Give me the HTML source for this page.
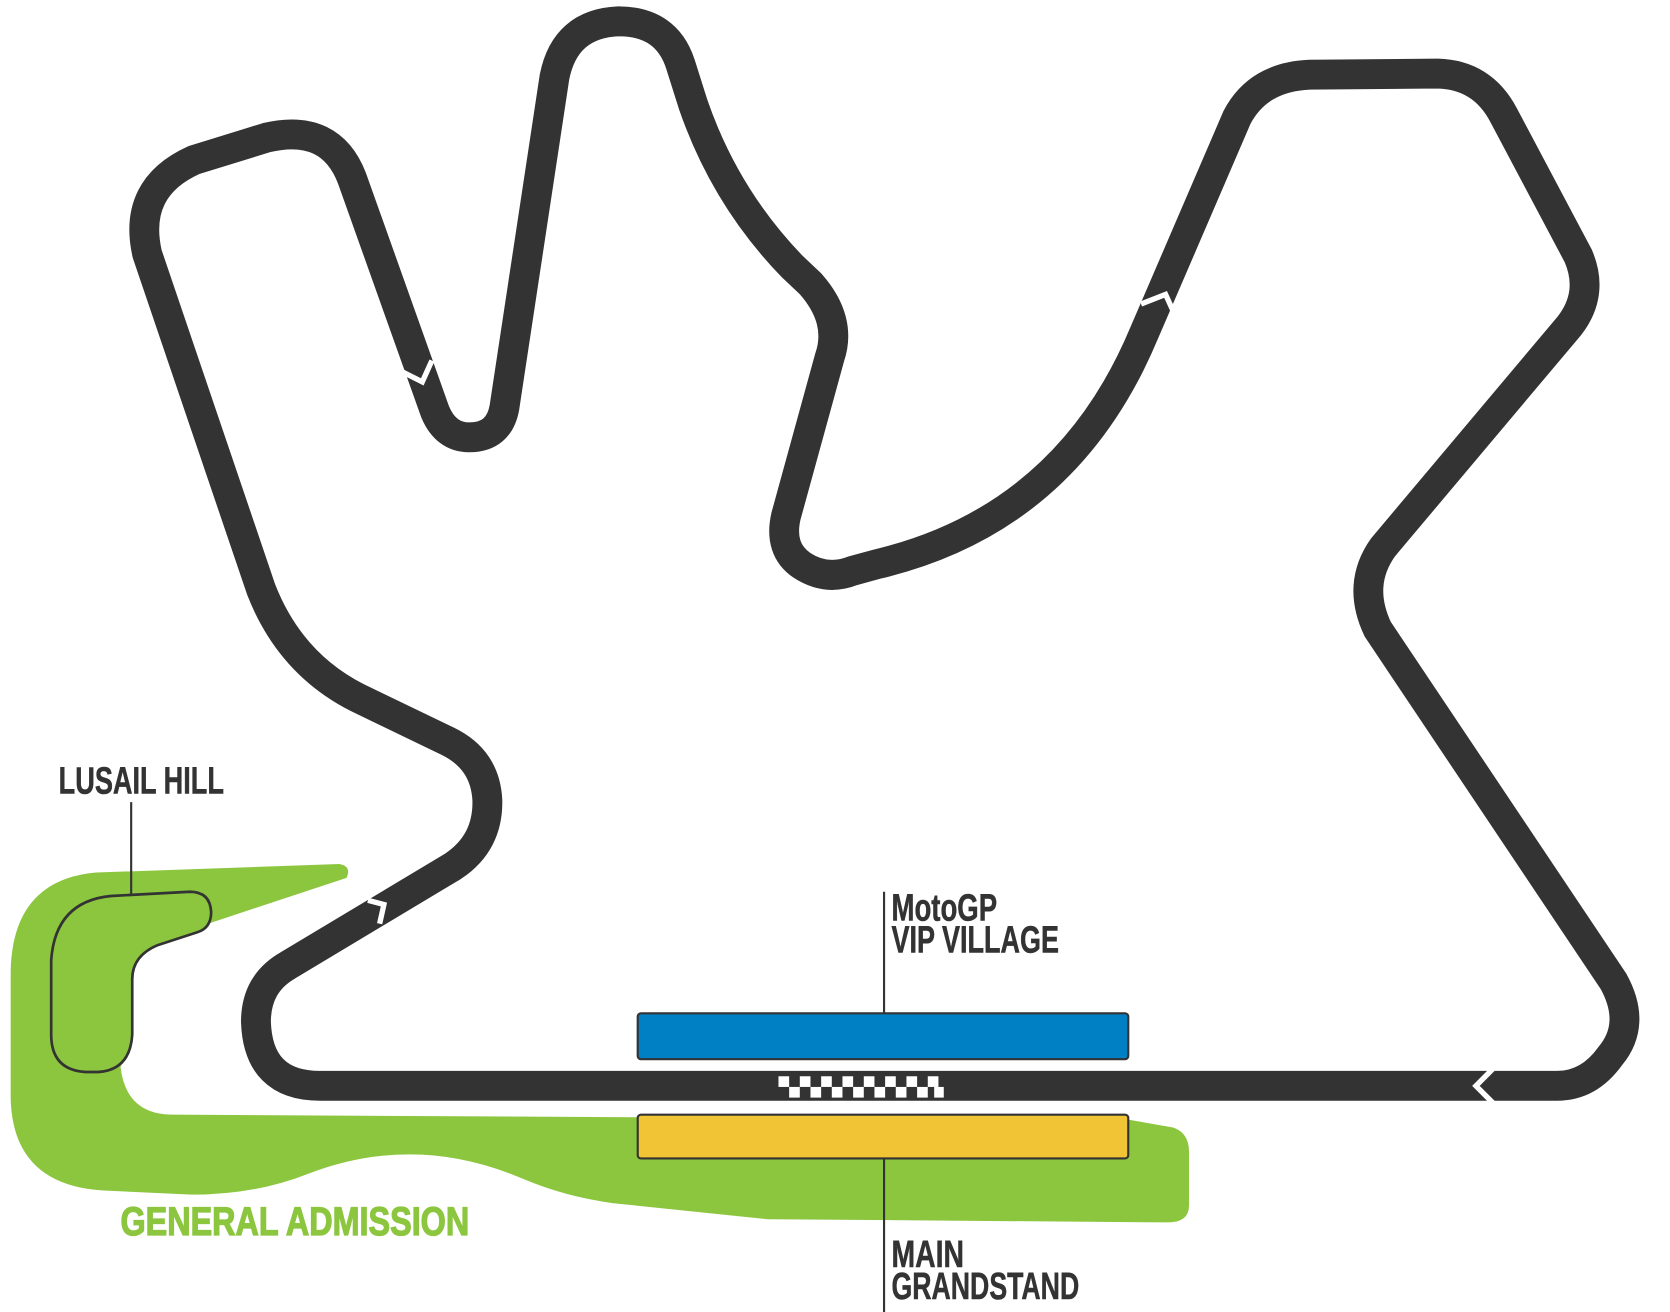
<!DOCTYPE html>
<html><head><meta charset="utf-8"><style>html,body{margin:0;padding:0;background:#fff}svg{display:block}</style></head>
<body>
<svg width="1670" height="1312" viewBox="0 0 1566 1230" preserveAspectRatio="none" xmlns="http://www.w3.org/2000/svg">
<path d="M90 818 L318 810 Q330 812 325 823 L195 866 L148 886 Q124 896 124 918 L124 970 Q118 990 113 1000 Q118 1045 162 1045 L1060 1050 L1100 1057 Q1115 1062 1115 1080 L1115 1130 Q1115 1146 1095 1146 L720 1143 L575 1128 Q530 1122 490 1105 Q390 1062 290 1100 Q240 1120 180 1120 L95 1116 Q12 1110 10 1030 L10 910 Q12 825 90 818 Z" fill="#8cc63f"/>
<path d="M104 840 L178 836 Q197 836 198 855 Q198 870 185 874 L148 886 Q124 896 124 918 L124 970 Q122 1003 92 1005 L80 1005 Q48 1003 48 970 L48 900 Q52 845 104 840 Z" fill="#8cc63f" stroke="#333" stroke-width="2.5"/>
<path d="M300 1018 Q242 1018 240 958 Q240 922 270 905 L425 812 Q458 790 457 750 Q455 712 420 695 L335 654 Q272 622 245 553 L138 238 Q124 176 182 150 L250 129 Q310 115 330 167 L408 386 Q418 410 440 410 Q468 410 473 382 L520 72 Q530 22 580 20 Q625 20 638 60 L650 98 Q680 185 743 250 L760 266 Q790 300 778 335 L737 484 Q730 515 752 530 Q775 545 800 535 L822 529 Q1000 487 1073 312 L1160 110 Q1180 72 1228 70 L1348 69 Q1390 70 1410 108 L1480 240 Q1495 275 1472 305 L1297 513 Q1272 548 1292 590 L1513 920 Q1535 960 1510 990 Q1490 1018 1460 1018 Z" fill="none" stroke="#333" stroke-width="28" stroke-linejoin="round"/>
<g fill="none" stroke="#fff" stroke-width="5">
<path d="M374 347 L396 358 L405 338"/>
<path d="M1070 285 L1093 276 L1103 298"/>
<path d="M345 844 L360 848 L356 866"/>
<path d="M1400 1002 L1384 1018 L1400 1034"/>
</g>
<g fill="#fff">
<rect x="730" y="1009" width="10" height="10"/><rect x="750" y="1009" width="10" height="10"/><rect x="770" y="1009" width="10" height="10"/><rect x="790" y="1009" width="10" height="10"/><rect x="810" y="1009" width="10" height="10"/><rect x="830" y="1009" width="10" height="10"/><rect x="850" y="1009" width="10" height="10"/><rect x="870" y="1009" width="10" height="10"/>
<rect x="740" y="1019" width="10" height="10"/><rect x="760" y="1019" width="10" height="10"/><rect x="780" y="1019" width="10" height="10"/><rect x="800" y="1019" width="10" height="10"/><rect x="820" y="1019" width="10" height="10"/><rect x="840" y="1019" width="10" height="10"/><rect x="860" y="1019" width="10" height="10"/><rect x="876" y="1019" width="9" height="10"/>
</g>
<rect x="598" y="950" width="460" height="43" rx="3" fill="#0080c4" stroke="#333" stroke-width="2"/>
<rect x="598" y="1045" width="460" height="41" rx="3" fill="#f0c434" stroke="#333" stroke-width="2"/>
<g stroke="#333" stroke-width="2">
<line x1="123" y1="752" x2="123" y2="838"/>
<line x1="829" y1="836" x2="829" y2="950"/>
<line x1="829" y1="1086" x2="829" y2="1230"/>
</g>
<g font-family="'Liberation Sans Narrow','Liberation Sans',sans-serif" fill="#333" font-size="36" font-weight="bold" stroke="#333" stroke-width="0.5">
<text x="55" y="744" textLength="155" lengthAdjust="spacingAndGlyphs">LUSAIL HILL</text>
<text x="836" y="863" textLength="99" lengthAdjust="spacingAndGlyphs">MotoGP</text>
<text x="836" y="893" textLength="157" lengthAdjust="spacingAndGlyphs">VIP VILLAGE</text>
<text x="836" y="1188" textLength="68" lengthAdjust="spacingAndGlyphs">MAIN</text>
<text x="836" y="1218" textLength="176" lengthAdjust="spacingAndGlyphs">GRANDSTAND</text>
</g>
<text x="113" y="1158" font-family="'Liberation Sans Narrow','Liberation Sans',sans-serif" font-weight="bold" font-size="37" fill="#8cc63f" stroke="#8cc63f" stroke-width="1.2" textLength="327" lengthAdjust="spacingAndGlyphs">GENERAL ADMISSION</text>
</svg>
</body></html>
